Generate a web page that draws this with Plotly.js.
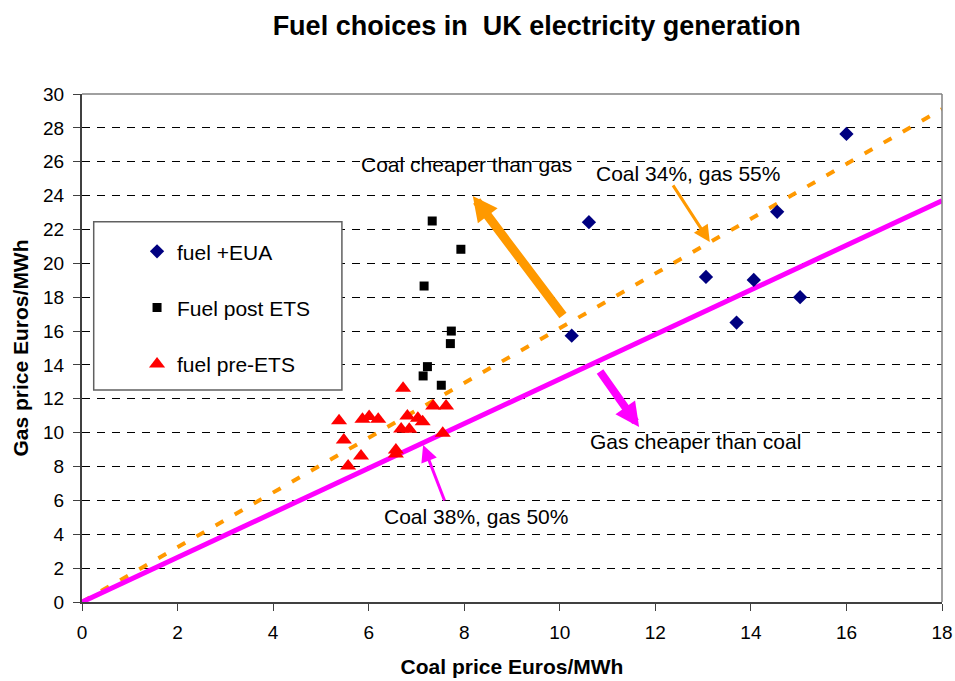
<!DOCTYPE html>
<html>
<head>
<meta charset="utf-8">
<script src="https://cdn.plot.ly/plotly-3.0.1.min.js"></script>
<style>html,body{margin:0;padding:0;background:#fff;}#chart{width:955px;height:681px;}</style>
</head>
<body>
<div id="chart"></div>
<script>
// ---- data ----
const euaX = [16.0, 14.55, 13.06, 14.06, 15.03, 13.7, 10.61, 10.25];
const euaY = [27.64, 23.04, 19.2, 19.02, 18.0, 16.5, 22.43, 15.73];

const postX = [7.33, 7.93, 7.16, 7.73, 7.71, 7.23, 7.14, 7.52];
const postY = [22.5, 20.83, 18.66, 16.0, 15.26, 13.9, 13.35, 12.8];

const preX = [6.72, 7.35, 7.62, 5.38, 5.87, 6.01, 6.2, 6.81, 7.03, 7.13, 6.68, 6.85, 5.48, 7.55, 6.57, 6.57, 5.84, 5.57];
const preY = [12.62, 11.58, 11.58, 10.71, 10.79, 10.95, 10.79, 10.99, 10.85, 10.65, 10.22, 10.2, 9.57, 9.96, 8.98, 8.74, 8.62, 8.03];

const line34X = [0, 18];
const line34Y = [0, 29.1];
const line38X = [0, 18];
const line38Y = [0, 23.7];

const xTicks = [0, 2, 4, 6, 8, 10, 12, 14, 16, 18];
const yTicks = [0, 2, 4, 6, 8, 10, 12, 14, 16, 18, 20, 22, 24, 26, 28, 30];

const FONT = 'Liberation Sans, Arial, sans-serif';

const traces = [
  {x: line34X, y: line34Y, mode: 'lines', showlegend: false, hoverinfo: 'skip',
   line: {color: '#FF9900', width: 4, dash: '9px,13px'}},
  {x: line38X, y: line38Y, mode: 'lines', showlegend: false, hoverinfo: 'skip',
   line: {color: '#FF00FF', width: 5}},
  {x: euaX, y: euaY, mode: 'markers', name: 'fuel +EUA', legendgroup: 'a',
   marker: {symbol: 'diamond', size: 11, color: '#000080'}},
  {x: postX, y: postY, mode: 'markers', name: 'Fuel post ETS', legendgroup: 'b',
   marker: {symbol: 'square', size: 9, color: '#000000'}},
  {x: preX, y: preY, mode: 'markers', name: 'fuel pre-ETS', legendgroup: 'c',
   marker: {symbol: 'triangle-up', size: 14, color: '#FF0000'}}
];

const arrow = (x, y, ax, ay, color, w, s) => ({
  x: x, y: y, ax: ax, ay: ay, xref: 'x', yref: 'y', axref: 'x', ayref: 'y',
  text: '', showarrow: true, arrowhead: 2, arrowwidth: w, arrowsize: s,
  arrowcolor: color, standoff: 0, startstandoff: 0
});
const label = (x, y, t) => ({
  x: x, y: y, xref: 'x', yref: 'y', text: t, showarrow: false,
  xanchor: 'center', yanchor: 'middle', font: {family: FONT, size: 21, color: '#000'}
});

const layout = {
  width: 955, height: 681,
  margin: {l: 82, r: 13, t: 94, b: 79},
  paper_bgcolor: '#fff', plot_bgcolor: '#fff',
  font: {family: FONT, size: 19, color: '#000'},
  title: {text: 'Fuel choices in&nbsp; UK electricity generation', x: 0.562, xanchor: 'center',
          y: 0.963, yanchor: 'middle', font: {family: FONT, size: 27, weight: 700, color: '#000'}},
  xaxis: {range: [0, 18], tickvals: xTicks, ticktext: xTicks.map(String), showgrid: false, zeroline: false,
          showline: true, linecolor: '#404040', linewidth: 2, ticks: 'outside', ticklen: 7, tickcolor: '#404040',
          tickwidth: 1, tickfont: {size: 19}, ticklabelstandoff: 5,
          title: {text: 'Coal price Euros/MWh', font: {size: 21, weight: 700}, standoff: 18}},
  yaxis: {range: [0, 30], tickvals: yTicks, ticktext: yTicks.map(String), showgrid: true, gridcolor: '#000',
          gridwidth: 1, griddash: '8px,7px', zeroline: false,
          showline: true, linecolor: '#404040', linewidth: 2, ticks: 'outside', ticklen: 7, tickcolor: '#404040',
          tickwidth: 1, tickfont: {size: 19}, ticklabelstandoff: 5,
          title: {text: 'Gas price Euros/MWh', font: {size: 21, weight: 700}, standoff: 9}},
  showlegend: true,
  legend: {x: 0.064, y: 0.73, xanchor: 'left', yanchor: 'top', bgcolor: 'rgba(0,0,0,0)', borderwidth: 0,
           traceorder: 'grouped', tracegroupgap: 26, font: {family: FONT, size: 21, color: '#000'}},
  shapes: [
    {type: 'line', xref: 'paper', yref: 'paper', x0: 0, x1: 1, y0: 1, y1: 1, line: {color: '#808080', width: 1.5}, layer: 'above'},
    {type: 'line', xref: 'paper', yref: 'paper', x0: 1, x1: 1, y0: 0, y1: 1, line: {color: '#808080', width: 1.5}, layer: 'above'},
    {type: 'rect', xref: 'x', yref: 'y', x0: 0.245, x1: 5.44, y0: 12.52, y1: 22.46,
     line: {color: '#606060', width: 1.5}, fillcolor: '#fff', layer: 'above'}
  ],
  annotations: [
    arrow(8.18, 23.98, 10.09, 16.83, '#FF9900', 9, 0.55),
    arrow(11.66, 10.34, 10.82, 13.70, '#FF00FF', 8, 0.6),
    arrow(13.14, 21.26, 12.35, 24.69, '#FF9900', 3, 1.1),
    arrow(7.14, 9.27, 7.60, 5.91, '#FF00FF', 3, 1.1),
    label(8.04, 25.81, 'Coal cheaper than gas'),
    label(12.68, 25.28, 'Coal 34%, gas 55%'),
    label(12.85, 9.45, 'Gas cheaper than coal'),
    label(8.24, 5.02, 'Coal 38%, gas 50%')
  ]
};

Plotly.newPlot('chart', traces, layout, {displayModeBar: false, staticPlot: true});
</script>
</body>
</html>
